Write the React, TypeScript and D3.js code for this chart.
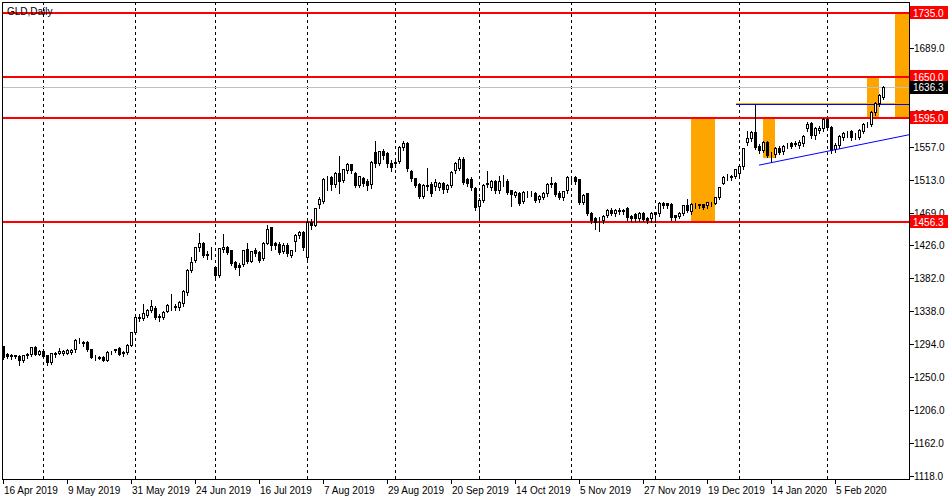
import React from 'react';
import * as d3 from 'd3';

const OPEN = [1291,1281,1278,1279,1278,1273,1279,1280,1290,1281,1285,1279,1270,1281,1282,1282,1282,1284,1287,1300,1297,1297,1287,1277,1277,1277,1273,1283,1286,1289,1282,1283,1293,1310,1330,1329,1333,1339,1342,1331,1330,1338,1346,1345,1343,1349,1363,1393,1406,1423,1429,1413,1414,1397,1386,1421,1423,1419,1403,1399,1401,1421,1405,1419,1417,1409,1429,1450,1429,1427,1418,1426,1413,1431,1439,1443,1410,1457,1453,1481,1485,1514,1517,1507,1522,1513,1526,1534,1522,1506,1515,1512,1507,1550,1535,1551,1549,1535,1535,1538,1557,1562,1525,1515,1507,1492,1506,1507,1505,1503,1509,1501,1506,1526,1529,1541,1514,1514,1502,1478,1486,1508,1503,1511,1499,1511,1511,1499,1493,1495,1485,1495,1496,1495,1487,1490,1495,1507,1509,1495,1490,1499,1517,1517,1514,1483,1495,1469,1462,1459,1459,1466,1473,1469,1472,1473,1475,1465,1467,1462,1469,1462,1462,1470,1469,1482,1482,1481,1466,1465,1469,1479,1471,1481,1479,1480,1479,1482,1482,1490,1509,1517,1517,1518,1522,1531,1563,1569,1577,1558,1553,1563,1548,1547,1556,1551,1559,1562,1561,1559,1562,1582,1589,1573,1580,1582,1594,1583,1554,1559,1570,1575,1578,1572,1570,1578,1587,1587,1603,1615,1623];
const HIGH = [1292,1283,1282,1281,1280,1281,1283,1292,1293,1287,1289,1281,1284,1285,1290,1287,1289,1289,1302,1303,1300,1299,1289,1280,1279,1279,1286,1286,1289,1291,1286,1295,1312,1331,1335,1349,1342,1354,1346,1335,1340,1349,1362,1349,1353,1367,1396,1412,1425,1443,1432,1420,1425,1400,1424,1442,1426,1421,1406,1403,1421,1430,1420,1423,1420,1431,1454,1452,1431,1431,1430,1430,1421,1442,1446,1446,1460,1462,1477,1492,1517,1520,1519,1525,1546,1529,1537,1536,1525,1520,1518,1516,1539,1566,1553,1555,1552,1540,1542,1560,1566,1565,1528,1517,1510,1509,1530,1512,1515,1512,1512,1509,1526,1538,1545,1544,1517,1518,1505,1490,1509,1526,1514,1514,1520,1521,1515,1501,1500,1498,1499,1500,1500,1498,1494,1498,1510,1518,1512,1499,1500,1519,1520,1519,1516,1496,1497,1471,1465,1464,1467,1476,1477,1475,1477,1476,1478,1467,1470,1471,1472,1465,1471,1472,1485,1485,1484,1483,1468,1471,1481,1489,1484,1484,1482,1482,1485,1485,1492,1505,1519,1522,1521,1529,1533,1557,1580,1580,1614,1562,1566,1566,1552,1558,1559,1561,1563,1565,1566,1567,1574,1592,1591,1585,1586,1597,1597,1586,1564,1574,1578,1580,1581,1577,1582,1590,1591,1606,1618,1629,1640];
const LOW = [1274,1275,1274,1275,1266,1270,1276,1278,1279,1279,1276,1266,1267,1277,1280,1279,1280,1281,1284,1295,1292,1285,1275,1273,1274,1271,1271,1280,1283,1279,1278,1281,1291,1307,1325,1326,1330,1336,1327,1325,1327,1336,1340,1340,1340,1345,1360,1390,1403,1418,1410,1408,1408,1383,1383,1417,1414,1400,1394,1386,1398,1402,1403,1412,1404,1406,1427,1420,1421,1414,1415,1412,1410,1418,1435,1420,1406,1448,1451,1475,1482,1500,1500,1503,1496,1510,1522,1522,1503,1503,1505,1500,1502,1530,1532,1540,1530,1525,1530,1535,1553,1525,1512,1503,1489,1489,1500,1492,1500,1500,1496,1497,1503,1522,1526,1507,1505,1499,1473,1459,1483,1503,1500,1496,1496,1505,1494,1478,1490,1479,1482,1490,1491,1483,1484,1488,1492,1503,1491,1487,1486,1496,1510,1508,1480,1480,1466,1456,1447,1445,1455,1463,1466,1465,1468,1468,1460,1458,1458,1458,1458,1456,1457,1457,1465,1475,1476,1460,1460,1462,1466,1470,1468,1476,1476,1474,1476,1478,1480,1488,1507,1513,1513,1515,1519,1528,1560,1565,1554,1549,1550,1543,1537,1543,1547,1548,1555,1555,1558,1555,1558,1578,1569,1568,1576,1578,1580,1549,1550,1556,1566,1570,1566,1567,1567,1575,1583,1584,1600,1612,1620];
const CLOSE = [1277,1278,1279,1278,1273,1279,1281,1290,1281,1285,1278,1270,1282,1282,1285,1285,1286,1286,1300,1299,1296,1287,1277,1277,1276,1273,1283,1284,1287,1281,1284,1293,1310,1330,1329,1335,1339,1345,1330,1330,1337,1346,1346,1344,1350,1365,1393,1403,1423,1429,1413,1414,1414,1386,1422,1423,1417,1402,1397,1397,1419,1405,1418,1415,1406,1429,1447,1426,1426,1417,1426,1415,1419,1439,1443,1423,1457,1453,1475,1487,1514,1514,1507,1522,1511,1527,1534,1526,1506,1518,1509,1506,1537,1535,1551,1546,1535,1530,1537,1557,1562,1529,1515,1506,1492,1506,1505,1495,1510,1509,1501,1506,1523,1535,1541,1510,1509,1503,1477,1486,1506,1509,1511,1499,1511,1511,1497,1494,1497,1482,1497,1495,1495,1486,1492,1495,1507,1509,1494,1490,1498,1517,1517,1511,1483,1493,1469,1459,1457,1459,1465,1473,1469,1473,1473,1472,1463,1462,1462,1469,1461,1459,1469,1467,1482,1479,1479,1463,1463,1469,1479,1473,1481,1480,1480,1477,1483,1482,1490,1503,1517,1517,1518,1527,1531,1555,1569,1577,1557,1553,1563,1546,1547,1555,1550,1558,1559,1558,1562,1563,1571,1587,1573,1582,1582,1594,1583,1553,1560,1571,1575,1575,1570,1572,1579,1587,1587,1603,1615,1626,1636.3];

const DATE_LABELS = ["16 Apr 2019","9 May 2019","31 May 2019","24 Jun 2019","16 Jul 2019","7 Aug 2019","29 Aug 2019","20 Sep 2019","14 Oct 2019","5 Nov 2019","27 Nov 2019","19 Dec 2019","14 Jan 2020","5 Feb 2020"];
const DATE_LABEL_BARS = [0,16,32,48,64,80,96,112,128,144,160,176,192,208];
const MONTH_START_BARS = [10,33,53,76,98,119,142,163,184,206];
const PRICE_TICKS = [1118,1162,1206,1250,1294,1338,1382,1426,1469,1513,1557,1601,1645,1689,1733];
const PRICE_TICK_SHOWN = [true,true,true,true,true,true,true,true,true,true,true,true,true,true,false];
const LEVELS = [1735,1650,1595,1456.3];
const LAST_PRICE = 1636.3;
const ZONE_BARS_FROM = [172,190,216,223];
const ZONE_BARS_TO = [178,193,219,226.5];
const ZONE_TOP = [1595,1595,1650,1735];
const ZONE_BOTTOM = [1456.3,1542,1595,1595];
const TREND_BARS = [189,226.5];
const TREND_PRICES = [1532.5,1573];
const RESIST_FROM_BAR = 183;
const RESIST_PRICE = 1614;

const FONT = '"Liberation Sans", Arial, sans-serif';

export default function App() {
  const W = 950, H = 500;
  const left = 2, right = 909, top = 2, bottom = 479;
  const x = d3.scaleLinear().domain([0, 220]).range([3, 883]);
  const y = d3.scaleLinear().domain([1118, 1750]).range([476, 2]);
  const px = (v: number) => Math.round(v) + 0.5;

  const candles = CLOSE.map((c, i) => {
    const o = OPEN[i], h = HIGH[i], l = LOW[i];
    const cx = px(x(i));
    const yt = px(y(Math.max(o, c)));
    const yb = px(y(Math.min(o, c)));
    const bull = c >= o;
    return (
      <g key={i}>
        <line x1={cx} x2={cx} y1={px(y(h))} y2={px(y(l))} stroke="#000" strokeWidth={1} />
        <rect x={cx - 1} y={yt} width={2} height={Math.max(0, yb - yt)} fill={bull ? '#fff' : '#000'} stroke="#000" strokeWidth={1} />
      </g>
    );
  });

  return (
    <svg width={W} height={H} style={{ position: 'absolute', left: 0, top: 0, background: '#fff' }} shapeRendering="crispEdges">
      <rect x={0} y={0} width={W} height={H} fill="#fff" />
      <defs>
        <clipPath id="plot"><rect x={left} y={top} width={right - left} height={bottom - top} /></clipPath>
      </defs>
      <g clipPath="url(#plot)">
        {MONTH_START_BARS.map((b, i) => (
          <line key={i} x1={px(x(b))} x2={px(x(b))} y1={top} y2={bottom} stroke="#000" strokeDasharray="3,3" />
        ))}
        {ZONE_BARS_FROM.map((b, i) => (
          <rect key={i} x={Math.round(x(b))} y={Math.round(y(ZONE_TOP[i]))} width={Math.round(x(ZONE_BARS_TO[i])) - Math.round(x(b))} height={Math.round(y(ZONE_BOTTOM[i])) - Math.round(y(ZONE_TOP[i]))} fill="#FFA500" />
        ))}
        <line x1={left} x2={right} y1={px(y(LAST_PRICE))} y2={px(y(LAST_PRICE))} stroke="#C0C0C0" />
        {LEVELS.map((v, i) => (
          <line key={i} x1={left} x2={right} y1={Math.round(y(v))} y2={Math.round(y(v))} stroke="#FF0000" strokeWidth={2} />
        ))}
        <line x1={px(x(RESIST_FROM_BAR))} x2={right} y1={px(y(RESIST_PRICE)) - 1} y2={px(y(RESIST_PRICE)) - 1} stroke="#FFA500" />
        <line x1={px(x(RESIST_FROM_BAR))} x2={right} y1={px(y(RESIST_PRICE))} y2={px(y(RESIST_PRICE))} stroke="#0000FF" />
        {candles}
        <line x1={x(TREND_BARS[0])} x2={x(TREND_BARS[1])} y1={y(TREND_PRICES[0])} y2={y(TREND_PRICES[1])} stroke="#0000FF" shapeRendering="auto" />
      </g>
      <rect x={left + 0.5} y={top + 0.5} width={right - left} height={bottom - top} fill="none" stroke="#000" />
      <text x={7} y={15} fontFamily={FONT} fontSize={10} fill="#000">GLD,Daily</text>
      {PRICE_TICKS.map((v, i) => (
        <g key={i}>
          <line x1={right + 1} x2={right + 5} y1={px(y(v))} y2={px(y(v))} stroke="#000" />
          {PRICE_TICK_SHOWN[i] && (
            <text x={914} y={y(v) + 4} fontFamily={FONT} fontSize={10} fill="#000">{v.toFixed(1)}</text>
          )}
        </g>
      ))}
      {LEVELS.map((v, i) => (
        <g key={i}>
          <rect x={right + 1} y={Math.round(y(v)) - 7} width={38} height={13} fill="#FF0000" />
          <text x={913} y={y(v) + 3.5} fontFamily={FONT} fontSize={10} fill="#fff">{v.toFixed(1)}</text>
        </g>
      ))}
      <rect x={right + 1} y={Math.round(y(LAST_PRICE)) - 6} width={38} height={13} fill="#000" />
      <text x={913} y={y(LAST_PRICE) + 4} fontFamily={FONT} fontSize={10} fill="#fff">{LAST_PRICE.toFixed(1)}</text>
      {DATE_LABEL_BARS.map((b, i) => (
        <g key={i}>
          <line x1={px(x(b))} x2={px(x(b))} y1={bottom} y2={bottom + 5} stroke="#000" />
          <text x={Math.round(x(b)) + 1} y={494} fontFamily={FONT} fontSize={10} fill="#000">{DATE_LABELS[i]}</text>
        </g>
      ))}
    </svg>
  );
}
